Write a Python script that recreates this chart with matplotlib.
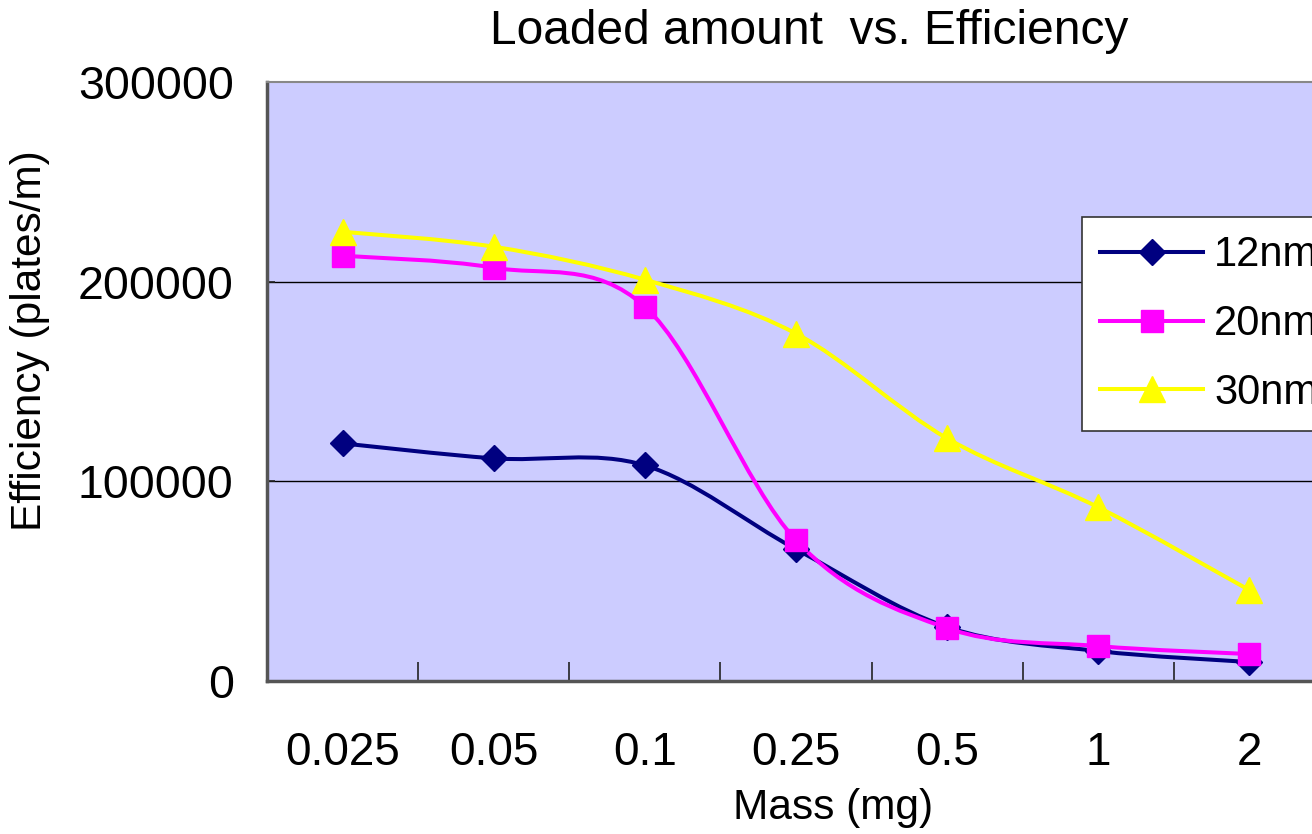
import numpy as np
import matplotlib
matplotlib.use('Agg')
import matplotlib.pyplot as plt
from matplotlib.path import Path
from matplotlib.patches import PathPatch
from matplotlib.lines import Line2D

plt.rcParams['font.family'] = ['Liberation Sans', 'DejaVu Sans']

# loaded mass (mg) and column efficiency (plates/m) per particle size
mass_labels = ['0.025', '0.05', '0.1', '0.25', '0.5', '1', '2']
eff_12nm = [119000, 111500, 108000, 66000, 27000, 15000, 9500]
eff_20nm = [213000, 207000, 187500, 70500, 26500, 17500, 13500]
eff_30nm = [225000, 217500, 201000, 174000, 121500, 87000, 45500]

series = [
    ('12nm', eff_12nm, '#000080', 'D', 13.5),
    ('20nm', eff_20nm, '#FF00FF', 's', 16),
    ('30nm', eff_30nm, '#FFFF00', '^', 18.5),
]


def smooth_path(x, y):
    # cubic bezier through every point (catmull-rom style tangents)
    pts = np.column_stack([x, y]).astype(float)
    n = len(pts)
    verts = [pts[0]]
    codes = [Path.MOVETO]
    for i in range(n - 1):
        p0 = pts[max(i - 1, 0)]
        p1 = pts[i]
        p2 = pts[i + 1]
        p3 = pts[min(i + 2, n - 1)]
        c1 = p1 + (p2 - p0) / 6.0
        c2 = p2 - (p3 - p1) / 6.0
        verts += [c1, c2, p2]
        codes += [Path.CURVE4] * 3
    return Path(verts, codes)


fig = plt.figure(figsize=(13.12, 8.34), dpi=100)
ax = fig.add_axes([267 / 1312, 1 - 681 / 834, (1325 - 267) / 1312, (681 - 82) / 834])
ax.set_facecolor('#CCCCFF')

x = np.arange(len(mass_labels))
handles = []
for name, vals, color, marker, ms in series:
    ax.add_patch(PathPatch(smooth_path(x, vals), fill=False, edgecolor=color,
                           lw=2.9, zorder=3, capstyle='round', joinstyle='round'))
    ax.plot(x, vals, linestyle='none', marker=marker, ms=ms, color=color,
            mec=color, zorder=4, clip_on=False)
    handles.append(Line2D([], [], color=color, lw=2.9, marker=marker, ms=ms, mec=color))

ax.set_xlim(-0.5, len(mass_labels) - 0.5)
ax.set_ylim(0, 300000)
ax.set_yticks([0, 100000, 200000, 300000])
ax.set_yticklabels(['0', '100000', '200000', '300000'])
ax.set_xticks(x)
ax.set_xticklabels(mass_labels)
ax.set_xticks(np.arange(-0.5, len(mass_labels), 1.0), minor=True)

ax.tick_params(axis='x', which='major', length=0, pad=36, labelsize=33)
ax.tick_params(axis='x', which='minor', direction='in', length=14, width=1.2, color='#222222')
ax.tick_params(axis='y', direction='in', length=6, width=1.2, color='#222222', pad=24, labelsize=33.5)

for yv in [100000, 200000]:
    ax.axhline(yv, color='black', lw=1.0, zorder=1)

ax.spines['left'].set_color('#555555')
ax.spines['left'].set_linewidth(2.5)
ax.spines['bottom'].set_color('#555555')
ax.spines['bottom'].set_linewidth(2.5)
ax.spines['top'].set_color('#888888')
ax.spines['top'].set_linewidth(1.5)
ax.spines['right'].set_visible(False)

fig.text(809 / 1312, 1 - 31 / 834, 'Loaded amount  vs. Efficiency', ha='center', va='center', fontsize=34.5)
fig.text(833 / 1312, 1 - 808 / 834, 'Mass (mg)', ha='center', va='center', fontsize=30.5)
fig.text(30 / 1312, 1 - 341 / 834, 'Efficiency (plates/m)', ha='center', va='center',
         rotation=90, fontsize=30.5)

leg = ax.legend(handles, [s[0] for s in series], loc='upper left',
                bbox_to_anchor=(1082 / 1312, 1 - 217 / 834), bbox_transform=fig.transFigure,
                fontsize=30, frameon=True, fancybox=False, framealpha=1,
                edgecolor='#333333', handlelength=2.47, handletextpad=0.26,
                labelspacing=0.69, borderpad=0.44, borderaxespad=0)
leg.get_frame().set_linewidth(1.2)

fig.savefig('out.png', dpi=100)
